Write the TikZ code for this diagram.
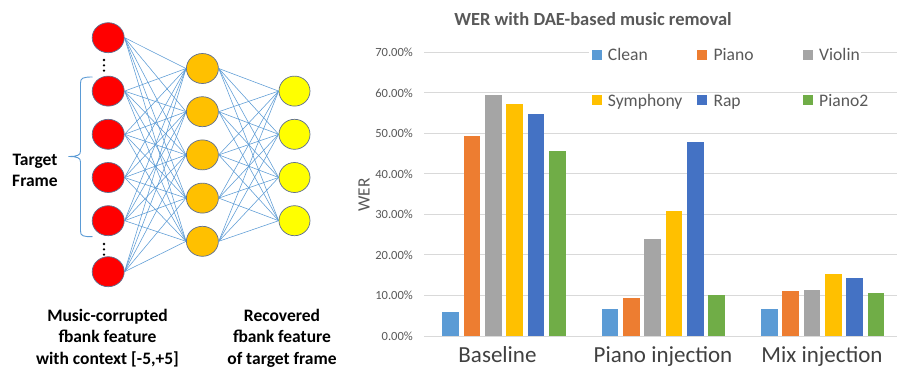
\documentclass[tikz,border=0pt]{standalone}
\usepackage{fontspec}
\setmainfont{Carlito}
\usetikzlibrary{shapes.geometric}
\definecolor{linkblue}{HTML}{5B9BD5}
\definecolor{cClean}{HTML}{5B9BD5}
\definecolor{cPiano}{HTML}{ED7D31}
\definecolor{cViolin}{HTML}{A5A5A5}
\definecolor{cSymph}{HTML}{FFC000}
\definecolor{cRap}{HTML}{4472C4}
\definecolor{cPianoB}{HTML}{70AD47}
\definecolor{gridgray}{HTML}{D9D9D9}
\definecolor{txtgray}{HTML}{595959}
\definecolor{catgray}{HTML}{404040}
\definecolor{nodeedge}{HTML}{5F6F8F}
\definecolor{redfill}{HTML}{FF0000}
\definecolor{orangefill}{HTML}{FFC000}
\definecolor{yellowfill}{HTML}{FFFF00}
\newcommand{\chartbar}[3]{\fill[#3] (#1,336) rectangle ({#1+16.7},{336-4.053*#2});}
\begin{document}
\begin{tikzpicture}[x=1pt,y=-1pt,
  neuron/.style={ellipse,draw=nodeedge,line width=0.7pt,minimum width=32pt,minimum height=30pt,inner sep=0pt},
  redn/.style={neuron,fill=redfill},
  orgn/.style={neuron,fill=orangefill},
  yeln/.style={neuron,fill=yellowfill,minimum width=31pt},
  link/.style={draw=linkblue,line width=0.55pt},
  boldlbl/.style={font=\bfseries\fontsize{17.5}{21}\selectfont,inner sep=0pt,anchor=base,text=black},
  tick/.style={font=\fontsize{12.5}{15}\selectfont,text=txtgray,inner sep=0pt,anchor=east},
  legtxt/.style={font=\fontsize{17.6}{20}\selectfont,text=txtgray,inner sep=0pt,anchor=base west},
  catlbl/.style={font=\fontsize{23}{26}\selectfont,text=catgray,inner sep=0pt,anchor=base},
  gridline/.style={draw=gridgray,line width=1pt}
]
\useasboundingbox (0,0) rectangle (899,367);
\fill[white] (0,0) rectangle (899,367);

% ---------- network ----------
\node[redn] (r1) at (108.2,37.7) {};
\node[redn] (r2) at (108.2,91.1) {};
\node[redn] (r3) at (108.2,134.3) {};
\node[redn] (r4) at (108.2,177.5) {};
\node[redn] (r5) at (108.2,220.7) {};
\node[redn] (r6) at (108.2,271.7) {};
\foreach \j in {1,...,5}{\node[orgn] (o\j) at (202.4,{68.5+43.2*(\j-1)}) {};}
\foreach \k in {1,...,4}{\node[yeln] (y\k) at (294.5,{91.1+43.2*(\k-1)}) {};}
\foreach \i in {1,...,6}{\foreach \j in {1,...,5}{\draw[link] (r\i.east) -- (o\j.west);}}
\foreach \j in {1,...,5}{\foreach \k in {1,...,4}{\draw[link] (o\j.east) -- (y\k.west);}}

\foreach \yy in {60,65.3,70.6,244,249.3,254.6}{\fill[black] (104,\yy) circle (1.3);}

\draw[linkblue,line width=0.9pt] (92.5,77) .. controls (83,77) and (80.5,78) .. (80.5,83) -- (80.5,151)
  .. controls (80.5,155) and (78,156.5) .. (68.3,156.5)
  .. controls (78,156.5) and (80.5,158) .. (80.5,162) -- (80.5,231)
  .. controls (80.5,236) and (83,236.7) .. (92.5,236.7);

\node[boldlbl] (tf1) at (35,165.7) {Target};
\node[boldlbl] (tf2) at (35,186.9) {Frame};

\node[boldlbl] (mc1) at (107.5,321) {Music-corrupted};
\node[boldlbl] (mc2) at (107.5,342.5) {fbank feature};
\node[boldlbl] (mc3) at (107.5,364) {with context [-5,+5]};
\node[boldlbl] (rf1) at (282,321) {Recovered};
\node[boldlbl] (rf2) at (282,342.5) {fbank feature};
\node[boldlbl] (rf3) at (282,364) {of target frame};

% ---------- chart ----------
\node[font=\bfseries\fontsize{18.5}{22}\selectfont,text=txtgray,inner sep=0pt,anchor=base] (title) at (593,25.7) {WER with DAE-based music removal};

\foreach \k/\lab in {0/0.00,1/10.00,2/20.00,3/30.00,4/40.00,5/50.00,6/60.00,7/70.00}{
  \draw[gridline] (424,{336-40.53*\k}) -- (897,{336-40.53*\k});
  \node[tick] (t\k) at (413,{336-40.53*\k}) {\lab\%};
}
\node[font=\fontsize{17.3}{20}\selectfont,text=txtgray,inner sep=0pt,rotate=90] (ylab) at (364,195) {WER};

% legend mask on the 70% line
\fill[white] (589,46) rectangle (861,59);

\chartbar{442.3}{6.0}{cClean}
\chartbar{463.6}{49.4}{cPiano}
\chartbar{484.9}{59.4}{cViolin}
\chartbar{506.2}{57.3}{cSymph}
\chartbar{527.5}{54.8}{cRap}
\chartbar{548.8}{45.6}{cPianoB}

\chartbar{601.7}{6.7}{cClean}
\chartbar{623.0}{9.45}{cPiano}
\chartbar{644.3}{23.9}{cViolin}
\chartbar{665.6}{30.9}{cSymph}
\chartbar{686.9}{47.8}{cRap}
\chartbar{708.2}{10.1}{cPianoB}

\chartbar{761.1}{6.6}{cClean}
\chartbar{782.4}{11.1}{cPiano}
\chartbar{803.7}{11.35}{cViolin}
\chartbar{825.0}{15.4}{cSymph}
\chartbar{846.3}{14.2}{cRap}
\chartbar{867.6}{10.5}{cPianoB}

\node[catlbl] (c1) at (497.5,362.3) {Baseline};
\node[catlbl] (c2) at (663,362.3) {Piano injection};
\node[catlbl] (c3) at (822,362.3) {Mix injection};

% legend
\fill[cClean] (591.7,49.5) rectangle +(10,10);
\node[legtxt] (l1) at (607.7,60.7) {Clean};
\fill[cPiano] (697.3,49.5) rectangle +(10,10);
\node[legtxt] (l2) at (713.3,60.7) {Piano};
\fill[cViolin] (802.8,49.5) rectangle +(10,10);
\node[legtxt] (l3) at (819,60.7) {Violin};
\fill[cSymph] (591.7,95.3) rectangle +(10,10);
\node[legtxt] (l4) at (607.7,106.5) {Symphony};
\fill[cRap] (697.3,95.3) rectangle +(10,10);
\node[legtxt] (l5) at (713.3,106.5) {Rap};
\fill[cPianoB] (802.8,95.3) rectangle +(10,10);
\node[legtxt] (l6) at (819,106.5) {Piano2};
\end{tikzpicture}
\end{document}
